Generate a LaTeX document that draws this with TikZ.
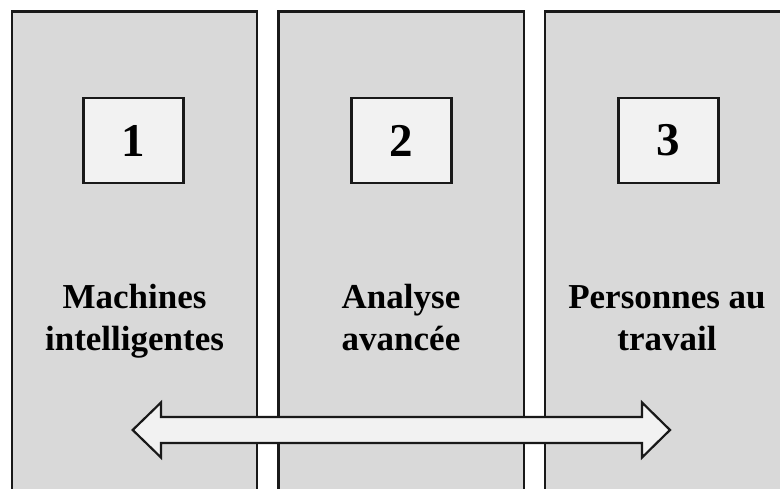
\documentclass[tikz,border=0pt]{standalone}
\usepackage{fontspec}
\setmainfont{Liberation Serif}
\begin{document}
\begin{tikzpicture}[x=1pt,y=-1pt,
  panel/.style={draw=black!90, line width=2.2pt, fill=panelgray},
  numbox/.style={draw=black!90, line width=2.2pt, fill=boxgray, minimum width=100pt, minimum height=85pt, inner sep=0pt, font=\fontsize{47}{50}\selectfont\bfseries},
  label/.style={anchor=base, inner sep=0pt, font=\fontsize{35}{42}\selectfont\bfseries},
  bigarrow/.style={draw=black!90, line width=2.2pt, fill=boxgray, line join=miter}]
\definecolor{panelgray}{HTML}{D9D9D9}
\definecolor{boxgray}{HTML}{F2F2F2}
\clip (0,0) rectangle (780,489);
\fill[white] (0,0) rectangle (780,489);
% panels
\draw[panel] (12,11.5) rectangle (257,520);
\draw[panel] (278.5,11.5) rectangle (524,520);
\draw[panel] (545,11.5) rectangle (792,520);
% number boxes
\node[numbox] (n1) at (133.5,140.5) {1};
\node[numbox] (n2) at (401.5,140.5) {2};
\node[numbox] (n3) at (668.5,140.5) {3};
% labels
\node[label] (t1) at (134.5,309) {\setlength\tabcolsep{0pt}\begin{tabular}[t]{c}Machines\\intelligentes\end{tabular}};
\node[label] (t2) at (401,309) {\setlength\tabcolsep{0pt}\begin{tabular}[t]{c}Analyse\\avancée\end{tabular}};
\node[label] (t3) at (667,309) {\setlength\tabcolsep{0pt}\begin{tabular}[t]{c}Personnes au\\travail\end{tabular}};
% double arrow
\draw[bigarrow] (132.7,430) -- (161,402.5) -- (161,417) -- (642,417) -- (642,402.5)
  -- (670,430) -- (642,457.5) -- (642,443) -- (161,443) -- (161,457.5) -- cycle;
\end{tikzpicture}
\end{document}
